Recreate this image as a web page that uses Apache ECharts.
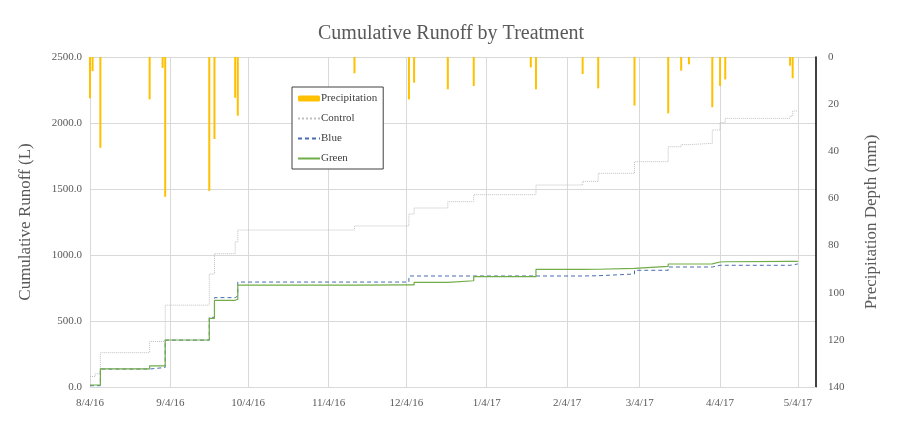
<!DOCTYPE html>
<html>
<head>
<meta charset="utf-8">
<script src="https://cdn.jsdelivr.net/npm/echarts@6/dist/echarts.min.js"></script>
<style>
  html, body { margin: 0; padding: 0; background: #fff; }
  #chart { width: 900px; height: 426px; }
</style>
</head>
<body>
<div id="chart"></div>
<script>
// x axis: one category per day, labels on the 4th of each month
const dayCount = 281;
const monthTicks = ['8/4/16', '9/4/16', '10/4/16', '11/4/16', '12/4/16', '1/4/17', '2/4/17', '3/4/17', '4/4/17', '5/4/17'];

// rain events (mm)
const rainDates = ['8/4/16', '8/5/16', '8/8/16', '8/27/16', '9/1/16', '9/2/16', '9/19/16', '9/21/16', '9/29/16', '9/30/16',
  '11/14/16', '12/5/16', '12/7/16', '12/20/16', '12/30/16', '1/21/17', '1/23/17', '2/10/17', '2/16/17',
  '3/2/17', '3/15/17', '3/20/17', '3/23/17', '4/1/17', '4/4/17', '4/6/17', '5/1/17', '5/2/17'];
const rainDepth = [17.5, 6, 38.5, 18, 4.6, 59.3, 56.8, 34.8, 17.3, 24.9,
  6.9, 18, 10.9, 13.7, 12.3, 4.4, 13.7, 7.2, 13.3,
  20.6, 23.9, 5.8, 3.1, 21.3, 12.3, 9.5, 3.7, 9];

// cumulative runoff (L), value after each step date
const stepDates = ['8/4/16', '8/6/16', '8/8/16', '8/27/16', '9/2/16', '9/19/16', '9/21/16', '9/29/16', '9/30/16',
  '11/14/16', '12/5/16', '12/7/16', '12/20/16', '12/30/16', '1/23/17', '2/10/17', '2/16/17',
  '3/2/17', '3/15/17', '3/20/17', '3/23/17', '4/1/17', '4/4/17', '4/6/17', '5/1/17', '5/2/17', '5/4/17'];
const control = [80, 100, 260, 345, 620, 856, 1010, 1100, 1189,
  1220, 1311, 1356, 1404, 1457, 1530, 1558, 1619,
  1707, 1820, 1836, 1846, 1947, 2002, 2035, 2053, 2091, 2091];
const blue = [10, 10, 136, 148, 355, 528, 677, 690, 795,
  795, 841, 841, 841, 841, 841, 843, 856,
  884, 909, 909, 909, 922, 922, 922, 925, 932, 932];
const green = [15, 15, 138, 160, 356, 520, 657, 665, 772,
  773, 773, 793, 805, 836, 891, 892, 899,
  914, 932, 932, 933, 947, 949, 951, 951, 951, 951];

function fmt(d) {
  return (d.getMonth() + 1) + '/' + d.getDate() + '/' + String(d.getFullYear()).slice(2);
}
const days = [];
for (let i = 0; i < dayCount; i++) {
  days.push(fmt(new Date(2016, 7, 4 + i)));
}
const isTick = (idx) => monthTicks.indexOf(days[idx]) >= 0;
const pairs = (xs, ys) => xs.map((x, i) => [x, ys[i]]);

const font = 'Liberation Serif';
const grey = '#595959';
const noSymbol = { opacity: 0 };

const chart = echarts.init(document.getElementById('chart'));
chart.setOption({
  animation: false,
  textStyle: { fontFamily: font },
  title: {
    text: 'Cumulative Runoff by Treatment',
    left: 313,
    top: 19,
    textStyle: { fontFamily: font, fontSize: 20, fontWeight: 'normal', color: grey }
  },
  grid: { left: 90, right: 84, top: 57, bottom: 39 },
  legend: {
    orient: 'vertical',
    left: 292,
    top: 87,
    backgroundColor: '#fff',
    borderColor: '#404040',
    borderWidth: 1,
    padding: [6, 6, 5, 5],
    itemWidth: 22,
    itemHeight: 6,
    itemGap: 9,
    textStyle: { fontFamily: font, fontSize: 11, color: '#404040', padding: [0, 0, 0, -4] },
    data: [
      { name: 'Precipitation' },
      { name: 'Control', itemStyle: noSymbol },
      { name: 'Blue', itemStyle: noSymbol },
      { name: 'Green', itemStyle: noSymbol }
    ]
  },
  xAxis: {
    type: 'category',
    data: days,
    boundaryGap: false,
    axisLine: { lineStyle: { color: '#d9d9d9' } },
    axisTick: { show: false },
    axisLabel: { interval: isTick, color: grey, fontSize: 11, fontFamily: font, margin: 11 },
    splitLine: { show: true, interval: isTick, lineStyle: { color: '#d9d9d9' } }
  },
  yAxis: [{
    type: 'value',
    min: 0, max: 2500, interval: 500,
    name: 'Cumulative Runoff (L)',
    nameLocation: 'middle',
    nameGap: 56,
    nameTextStyle: { fontFamily: font, fontSize: 17, color: grey },
    axisLine: { show: false },
    axisLabel: { color: grey, fontSize: 11, fontFamily: font, formatter: v => v.toFixed(1) },
    splitLine: { lineStyle: { color: '#d9d9d9' } }
  }, {
    type: 'value',
    min: 0, max: 140, interval: 20,
    inverse: true,
    name: 'Precipitation Depth (mm)',
    nameLocation: 'middle',
    nameGap: 47,
    nameTextStyle: { fontFamily: font, fontSize: 17, color: grey },
    axisLine: { show: true, lineStyle: { color: '#000', width: 1.5 } },
    axisTick: { show: false },
    axisLabel: { color: grey, fontSize: 11, fontFamily: font, margin: 12 },
    splitLine: { show: false }
  }],
  series: [{
    name: 'Precipitation',
    type: 'bar',
    yAxisIndex: 1,
    barWidth: 2,
    itemStyle: { color: '#FFC000' },
    data: pairs(rainDates, rainDepth)
  }, {
    name: 'Control',
    type: 'line',
    step: 'end',
    symbol: 'none',
    lineStyle: { color: '#bfbfbf', width: 1, type: 'dotted' },
    itemStyle: { color: '#bfbfbf' },
    data: pairs(stepDates, control)
  }, {
    name: 'Blue',
    type: 'line',
    step: 'end',
    symbol: 'none',
    lineStyle: { color: '#4a6cb3', width: 1, type: [4, 3] },
    itemStyle: { color: '#4a6cb3' },
    data: pairs(stepDates, blue)
  }, {
    name: 'Green',
    type: 'line',
    step: 'end',
    symbol: 'none',
    lineStyle: { color: '#70AD47', width: 1.2 },
    itemStyle: { color: '#70AD47' },
    data: pairs(stepDates, green)
  }]
});
</script>
</body>
</html>
